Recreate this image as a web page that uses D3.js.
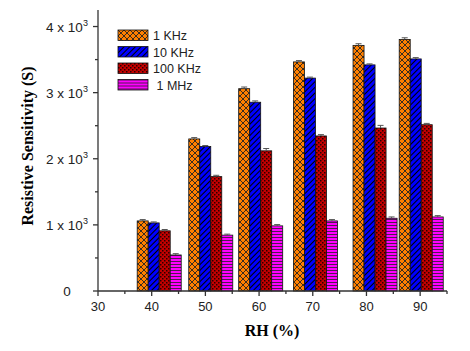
<!DOCTYPE html>
<html>
<head>
<meta charset="utf-8">
<script src="https://cdn.jsdelivr.net/npm/d3@7"></script>
<style>
  body { margin: 0; background: #fff; }
  text { font-family: "Liberation Sans", Arial, sans-serif; }
</style>
</head>
<body>
<div id="container"></div>
<script>
/* CONSTANTS AND GLOBALS */
const width = 470,
  height = 351,
  margin = { top: 10, bottom: 60, left: 98, right: 23 };

/* DATA */
const categories = [40, 50, 60, 70, 80, 90];
// where each group sits on the RH axis
const groupPos = [41.4, 51.0, 60.3, 70.5, 81.6, 90.2];
const seriesNames = ["1 KHz", "10 KHz", "100 KHz", " 1 MHz"];
const s1k = [1060, 2300, 3060, 3465, 3715, 3805];
const s10k = [1030, 2185, 2855, 3220, 3420, 3510];
const s100k = [910, 1730, 2120, 2345, 2465, 2515];
const s1M = [545, 845, 985, 1060, 1100, 1120];
const errs = [
  [20, 20, 25, 20, 25, 25],
  [15, 15, 20, 15, 15, 20],
  [20, 20, 35, 20, 40, 20],
  [20, 15, 20, 20, 20, 20]
];
const yTicks = [0, 1000, 2000, 3000, 4000];
const xTicks = [30, 40, 50, 60, 70, 80, 90];

const series = [s1k, s10k, s100k, s1M];

/* SCALES */
const xScale = d3.scaleLinear()
  .domain([30, 95])
  .range([margin.left, width - margin.right]);

const yScale = d3.scaleLinear()
  .domain([0, 4250])
  .range([height - margin.bottom, margin.top]);

const barW = xScale(32.05) - xScale(30);

/* SVG */
const svg = d3.select("#container")
  .append("svg")
  .attr("width", width)
  .attr("height", height);

// fill patterns
const defs = svg.append("defs");

const pOrange = defs.append("pattern").attr("id", "p0")
  .attr("patternUnits", "userSpaceOnUse").attr("width", 6).attr("height", 6);
pOrange.append("rect").attr("width", 6).attr("height", 6).attr("fill", "#ff8000");
pOrange.append("path").attr("d", "M0,0L6,6M6,0L0,6")
  .attr("stroke", "#222").attr("stroke-width", 0.9);

const pBlue = defs.append("pattern").attr("id", "p1")
  .attr("patternUnits", "userSpaceOnUse").attr("width", 4).attr("height", 4)
  .attr("patternTransform", "rotate(45)");
pBlue.append("rect").attr("width", 4).attr("height", 4).attr("fill", "#0000ff");
pBlue.append("line").attr("x1", 0.5).attr("x2", 0.5).attr("y1", 0).attr("y2", 4)
  .attr("stroke", "#000").attr("stroke-width", 1);

// checker of dark dots on red
const pRed = defs.append("pattern").attr("id", "p2")
  .attr("patternUnits", "userSpaceOnUse").attr("width", 4).attr("height", 4);
pRed.append("rect").attr("width", 4).attr("height", 4).attr("fill", "#c40000");
pRed.append("rect").attr("width", 1.5).attr("height", 1.5).attr("fill", "#2a0000");
pRed.append("rect").attr("x", 2).attr("y", 2).attr("width", 1.5).attr("height", 1.5).attr("fill", "#2a0000");

const pMag = defs.append("pattern").attr("id", "p3")
  .attr("patternUnits", "userSpaceOnUse").attr("width", 3).attr("height", 3);
pMag.append("rect").attr("width", 3).attr("height", 3).attr("fill", "#ff00ff");
pMag.append("line").attr("x1", 0).attr("x2", 3).attr("y1", 0.5).attr("y2", 0.5)
  .attr("stroke", "#222").attr("stroke-width", 0.8);

// bars
series.forEach((vals, si) => {
  const g = svg.append("g");
  const rows = vals.map((v, i) => ({
    v: v,
    e: errs[si][i],
    x: xScale(groupPos[i]) - 2 * barW + si * barW
  }));

  g.selectAll("rect")
    .data(rows)
    .join("rect")
    .attr("x", d => d.x)
    .attr("y", d => yScale(d.v))
    .attr("width", barW)
    .attr("height", d => yScale(0) - yScale(d.v))
    .attr("fill", `url(#p${si})`)
    .attr("stroke", "#111")
    .attr("stroke-width", 0.8);

  // error bars
  g.selectAll("path.err")
    .data(rows)
    .join("path")
    .attr("class", "err")
    .attr("d", d => {
      const cx = d.x + barW / 2, t = yScale(d.v + d.e), b = yScale(d.v);
      return `M${cx},${b}V${t}M${cx - 3},${t}H${cx + 3}`;
    })
    .attr("fill", "none")
    .attr("stroke", "#555")
    .attr("stroke-width", 1);
});

// axes
const axisG = svg.append("g").attr("stroke", "#333").attr("stroke-width", 1.3);
axisG.append("line")
  .attr("x1", xScale(30)).attr("x2", xScale(95))
  .attr("y1", yScale(0)).attr("y2", yScale(0));
axisG.append("line")
  .attr("x1", xScale(30)).attr("x2", xScale(30))
  .attr("y1", yScale(0)).attr("y2", yScale(4250));

// x ticks (major + minor)
d3.range(30, 96, 5).forEach(t => {
  axisG.append("line")
    .attr("x1", xScale(t)).attr("x2", xScale(t))
    .attr("y1", yScale(0)).attr("y2", yScale(0) + (t % 10 === 0 ? 5 : 3));
});
d3.range(0, 4001, 500).forEach(t => {
  axisG.append("line")
    .attr("x1", xScale(30)).attr("x2", xScale(30) - (t % 1000 === 0 ? 5 : 3))
    .attr("y1", yScale(t)).attr("y2", yScale(t));
});

svg.append("g")
  .selectAll("text")
  .data(xTicks)
  .join("text")
  .attr("x", d => xScale(d))
  .attr("y", yScale(0) + 20)
  .attr("text-anchor", "middle")
  .style("font-size", "13px")
  .attr("fill", "#222")
  .text(d => d);

const yLab = svg.append("g")
  .selectAll("text")
  .data(yTicks)
  .join("text")
  .attr("x", 67)
  .attr("y", d => yScale(d) + 5)
  .attr("text-anchor", "middle")
  .style("font-size", "13.5px")
  .attr("fill", "#222");
yLab.each(function(d) {
  const t = d3.select(this);
  if (d === 0) { t.text("0"); return; }
  t.append("tspan").text(`${d / 1000} x 10`);
  t.append("tspan").attr("dy", -6).style("font-size", "9px").text("3");
});

// axis titles
svg.append("text")
  .attr("x", 272)
  .attr("y", 336)
  .attr("text-anchor", "middle")
  .style("font-family", "'Liberation Serif', 'Times New Roman', serif")
  .style("font-weight", "bold")
  .style("font-size", "16px")
  .text("RH (%)");

svg.append("text")
  .attr("transform", "translate(33,146) rotate(-90)")
  .attr("text-anchor", "middle")
  .style("font-family", "'Liberation Serif', 'Times New Roman', serif")
  .style("font-weight", "bold")
  .style("font-size", "16px")
  .text("Resistive Sensitivity (S)");

// legend
const legend = svg.append("g")
  .selectAll("g")
  .data(seriesNames)
  .join("g")
  .attr("transform", (d, i) => `translate(118,${30 + i * 16.5})`);
legend.append("rect")
  .attr("width", 30)
  .attr("height", 10.5)
  .attr("fill", (d, i) => `url(#p${i})`)
  .attr("stroke", "#111")
  .attr("stroke-width", 0.8);
legend.append("text")
  .attr("x", 35)
  .attr("y", 10)
  .style("font-size", "12.5px")
  .style("white-space", "pre")
  .attr("fill", "#222")
  .text(d => d);
</script>
</body>
</html>
